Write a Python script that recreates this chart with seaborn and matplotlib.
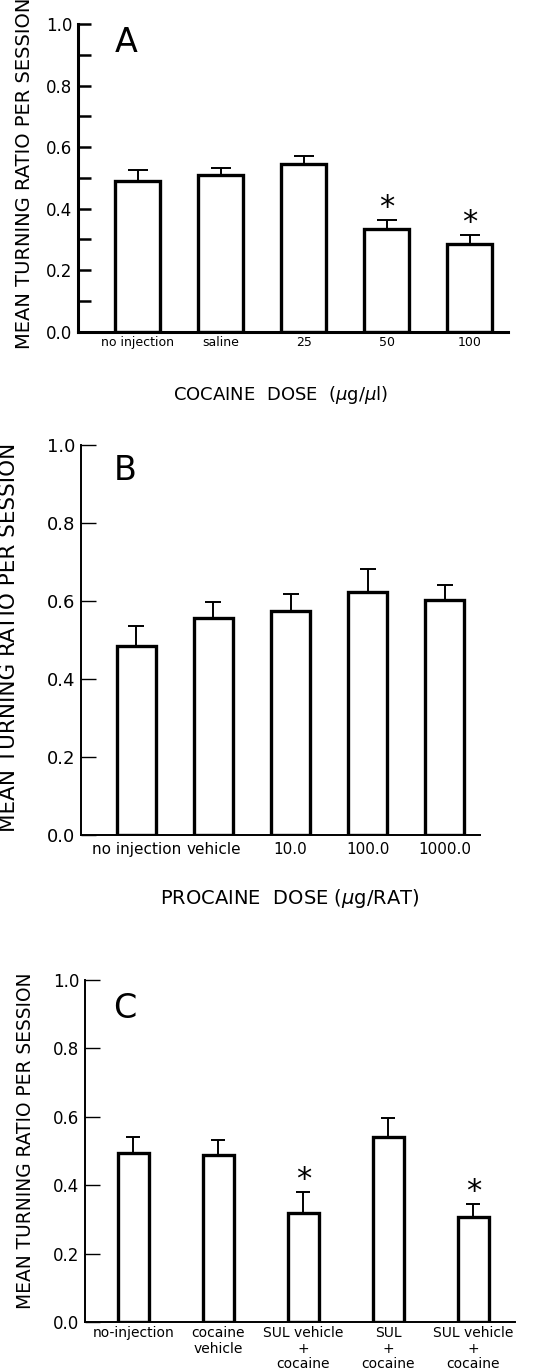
import numpy as np
import pandas as pd
import matplotlib
matplotlib.use('Agg')
import matplotlib.pyplot as plt
import seaborn as sns

# panel A: cocaine into the nucleus
cocaine_labels = ['no injection', 'saline', '25', '50', '100']
cocaine_mean = [0.490, 0.509, 0.544, 0.334, 0.285]
cocaine_sem = [0.036, 0.023, 0.027, 0.029, 0.030]
cocaine_sig = [False, False, False, True, True]

# panel B: procaine
procaine_labels = ['no injection', 'vehicle', '10.0', '100.0', '1000.0']
procaine_mean = [0.485, 0.556, 0.574, 0.622, 0.603]
procaine_sem = [0.051, 0.041, 0.044, 0.059, 0.037]
procaine_sig = [False, False, False, False, False]

# panel C: sulpiride + cocaine
sul_labels = ['no-injection', 'cocaine\nvehicle', 'SUL vehicle\n+\ncocaine',
              'SUL\n+\ncocaine', 'SUL vehicle\n+\ncocaine']
sul_mean = [0.494, 0.488, 0.320, 0.541, 0.306]
sul_sem = [0.047, 0.043, 0.059, 0.056, 0.040]
sul_sig = [False, False, True, False, True]

sns.set_style('ticks')
plt.rcParams['font.family'] = ['DejaVu Sans']
plt.rcParams.update({'text.color': 'black', 'axes.labelcolor': 'black',
                     'xtick.color': 'black', 'ytick.color': 'black',
                     'axes.edgecolor': 'black'})

W, H = 535, 1371
fig = plt.figure(figsize=(W / 100, H / 100), dpi=100)


def box(left, right, top, bottom):
    return [left / W, 1 - bottom / H, (right - left) / W, (bottom - top) / H]


def draw_panel(ax, labels, means, sems, sig, width, xlim, bar_lw, spine_lw,
               tick_len, tick_w, ytick_size, xtick_size, xpad, cap, minor):
    df = pd.DataFrame({'pos': range(len(means)), 'mean': means})
    sns.barplot(data=df, x='pos', y='mean', ax=ax, color='white', saturation=1,
                edgecolor='black', linewidth=bar_lw, width=width, errorbar=None)
    ax.errorbar(df['pos'], df['mean'], yerr=[np.zeros(len(sems)), sems],
                fmt='none', ecolor='black', elinewidth=1.4, capsize=cap,
                capthick=1.4, zorder=3)
    for p, m, s, star in zip(df['pos'], means, sems, sig):
        if star:
            ax.annotate('*', (p, m + s), xytext=(0, 9), textcoords='offset points',
                        ha='center', va='center', fontsize=22, color='black')
    ax.set_xlim(*xlim)
    ax.set_ylim(0, 1.0)
    ax.set_xticks(range(len(labels)))
    ax.set_xticklabels(labels, fontsize=xtick_size, linespacing=1.15)
    ax.set_yticks(np.arange(0, 1.01, 0.2))
    ax.set_yticklabels(['0.0', '0.2', '0.4', '0.6', '0.8', '1.0'], fontsize=ytick_size)
    if minor:
        ax.set_yticks(np.arange(0.1, 1.0, 0.2), minor=True)
        ax.tick_params(axis='y', which='minor', direction='in', length=tick_len, width=tick_w)
    ax.tick_params(axis='y', direction='in', length=tick_len, width=tick_w, pad=4)
    ax.tick_params(axis='x', length=0, pad=xpad)
    ax.set_xlabel('')
    ax.set_ylabel('')
    sns.despine(ax=ax)
    for side in ['left', 'bottom']:
        ax.spines[side].set_linewidth(spine_lw)
        ax.spines[side].set_color('black')


axA = fig.add_axes(box(78, 508, 24, 331.7))
draw_panel(axA, cocaine_labels, cocaine_mean, cocaine_sem, cocaine_sig,
           width=0.54, xlim=(-0.72, 4.46), bar_lw=2.4, spine_lw=2.2,
           tick_len=9.5, tick_w=1.8, ytick_size=12, xtick_size=9, xpad=3,
           cap=7, minor=True)

axB = fig.add_axes(box(81, 480, 445, 835))
draw_panel(axB, procaine_labels, procaine_mean, procaine_sem, procaine_sig,
           width=0.51, xlim=(-0.72, 4.46), bar_lw=2.4, spine_lw=1.4,
           tick_len=11, tick_w=1.0, ytick_size=13, xtick_size=11, xpad=5,
           cap=5.5, minor=False)

axC = fig.add_axes(box(85, 515, 980, 1322))
draw_panel(axC, sul_labels, sul_mean, sul_sem, sul_sig,
           width=0.37, xlim=(-0.57, 4.49), bar_lw=2.4, spine_lw=1.4,
           tick_len=11, tick_w=1.0, ytick_size=12, xtick_size=10, xpad=3,
           cap=5, minor=False)

# panel letters
fig.text(115 / W, 1 - 42 / H, 'A', fontsize=24, ha='left', va='center')
fig.text(114 / W, 1 - 470 / H, 'B', fontsize=24, ha='left', va='center')
fig.text(113 / W, 1 - 1008 / H, 'C', fontsize=24, ha='left', va='center')

# x titles
fig.text(281 / W, 1 - 395 / H, 'COCAINE  DOSE  ($\\mu$g/$\\mu$l)', fontsize=13,
         ha='center', va='center')
fig.text(290 / W, 1 - 898 / H, 'PROCAINE  DOSE ($\\mu$g/RAT)', fontsize=14,
         ha='center', va='center')

# y titles
ytitle = 'MEAN TURNING RATIO PER SESSION'
fig.text(25 / W, 1 - 173 / H, ytitle, fontsize=14, rotation=90, ha='center', va='center')
fig.text(9 / W, 1 - 637 / H, ytitle, fontsize=15.5, rotation=90, ha='center', va='center')
fig.text(26 / W, 1 - 1141 / H, ytitle, fontsize=13.4, rotation=90, ha='center', va='center')

fig.savefig('out.png', dpi=100, facecolor='white')
